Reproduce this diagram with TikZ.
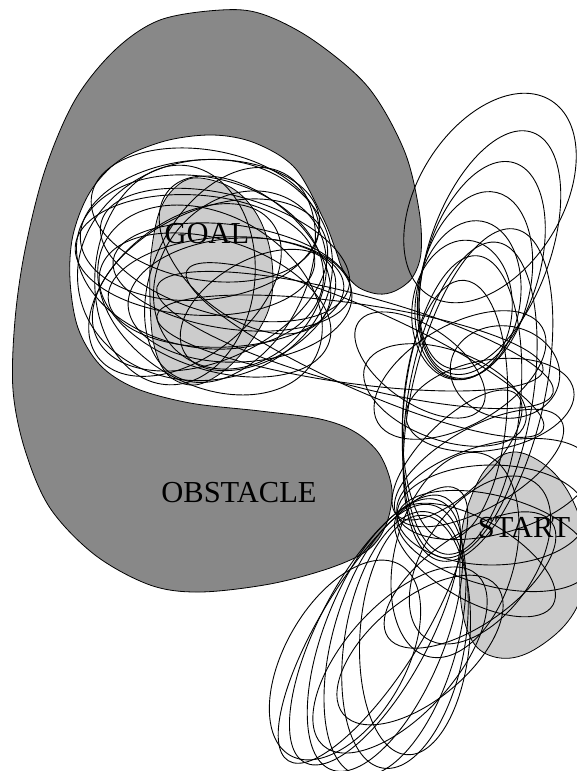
\documentclass[tikz,border=0pt]{standalone}
\usepackage{fontspec}
\setmainfont{Liberation Serif}
\definecolor{obst}{gray}{0.533}
\definecolor{reg}{gray}{0.8}
\begin{document}
\begin{tikzpicture}[x=1pt,y=-1pt,
  ell/.style={line width=0.9pt},
  outl/.style={line width=0.8pt},
  lbl/.style={font=\fontsize{30.5}{36}\selectfont, anchor=base, inner sep=0pt}]
\useasboundingbox (0,0) rectangle (577,771);
\begin{scope}
\clip (0,0) rectangle (577,771);
% obstacle
\draw[outl, fill=obst] plot[smooth cycle, tension=0.55] coordinates {
 (221,10) (262,14) (313,40) (368,87) (404,150) (419,210) (421,253) (412,278) (395,291) (378,294)
 (358,287) (343,270) (335,248) (323,218) (295,168) (255,143) (213,135) (165,141) (120,160) (90,192)
 (73,235) (70,280) (78,328) (100,365) (135,388) (190,403) (260,411) (320,419) (355,432) (380,455)
 (392,490) (386,525) (368,550) (330,568) (270,584) (200,592) (150,585) (95,555) (50,508) (25,450)
 (13,390) (15,320) (25,250) (45,170) (75,100) (115,50) (160,20)};
% goal region
\draw[outl, fill=reg] plot[smooth cycle, tension=0.6] coordinates {
 (200,178) (235,190) (260,220) (272,262) (270,305) (252,340) (225,370) (195,385) (168,375)
 (154,345) (150,300) (151,255) (160,210) (178,185)};
% start region
\draw[outl, fill=reg] plot[smooth cycle, tension=0.6] coordinates {
 (513,452) (545,465) (570,495) (585,540) (583,590) (565,625) (530,652) (500,658) (475,645)
 (462,610) (460,560) (465,515) (485,470)};
% funnel ellipses
\foreach \cx/\cy/\a/\b/\r in {
 % goal cluster
 205/270/128/110/10, 200/262/125/85/-12, 210/285/125/75/25, 230/275/115/75/62,
 195/255/120/60/-4, 215/305/120/65/-18, 226/292/118/55/3, 185/290/110/68/38,
 245/255/100/60/-40, 200/230/120/70/5, 175/275/110/80/85, 258/310/85/50/30,
 205/215/115/65/-10, 232/277/120/52/-8, 225/255/128/60/-15, 240/300/112/62/3,
 210/300/120/85/-30, 240/280/95/80/50,
 % long ones through the gap
 355/340/205/45/-15, 350/343/195/40/-8, 365/350/195/40/-24,
 % upper right loops
 490/198/115/72/58, 490/250/125/60/70, 482/268/110/57/73, 475/285/95/55/77,
 468/300/80/52/80, 462/310/70/50/84,
 % tall ones
 462/405/150/58/84, 470/400/160/62/80, 455/410/130/52/86, 478/395/170/66/77,
 % middle loops
 420/365/75/38/-35, 505/372/55/46/-10, 460/375/95/50/30, 445/395/85/45/-20, 490/405/85/45/10,
 % start cluster
 455/555/105/60/75, 479/468/95/40/30, 494/489/100/45/15, 492/515/95/50/0, 494/541/100/45/-15,
 475/560/90/40/-30, 457/455/85/35/45, 480/560/95/55/55, 470/580/100/45/35,
 % lower fan
 345/660/110/60/60, 375/630/150/55/62, 385/635/145/60/68, 395/640/140/62/74,
 405/640/130/60/80, 373/625/160/50/58, 415/635/120/55/86, 400/660/115/55/48, 420/650/100/50/40}
 {\draw[ell, rotate around={\r:(\cx,\cy)}] (\cx,\cy) ellipse [x radius=\a, y radius=\b];}
\end{scope}
\node[lbl] (goal) at (207,243) {GOAL};
\node[lbl] (obstacle) at (239,502) {OBSTACLE};
\node[lbl] (start) at (524,537) {START};
\end{tikzpicture}
\end{document}
